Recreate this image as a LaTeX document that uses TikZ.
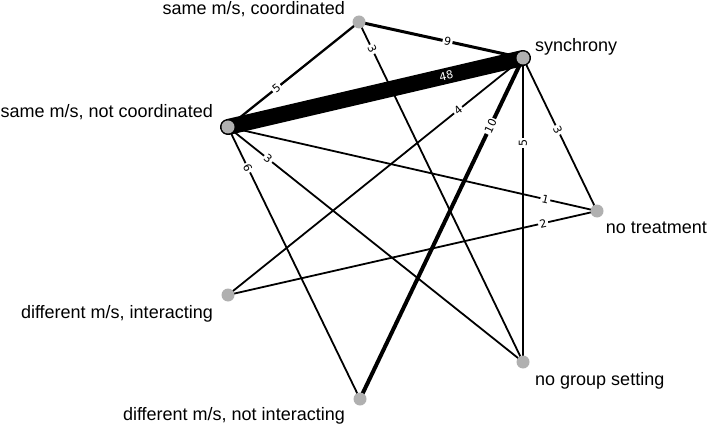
\documentclass[tikz,border=0pt]{standalone}
\usepackage{fontspec}
\setmainfont{Liberation Sans}
\newfontfamily\WeightFont{DejaVu Sans}
\usepackage{tikz}
\usepackage{xcolor}
\definecolor{ColNode}{RGB}{176,176,176}
\pgfdeclarelayer{back}
\pgfsetlayers{back,main}
\tikzstyle{NodeGraph}=[circle,fill=ColNode,inner sep=0pt,minimum size=13pt]
\tikzstyle{NodeText}=[inner sep=0pt,font=\fontsize{18}{20}\selectfont]
\tikzstyle{EdgeGraph}=[black,line width=1.8pt]
\tikzstyle{EdgeWeight}=[fill=white,inner sep=1.5pt,sloped,font=\WeightFont\fontsize{11}{12}\selectfont]

\begin{document}
\begin{tikzpicture}[x=1pt,y=-1pt]
        \useasboundingbox(0,0)rectangle(708,430);
        \node[NodeGraph](c)at(359,22){};
        \node[NodeGraph](s)at(523,58){};
        \node[NodeGraph](n)at(228,127){};
        \node[NodeGraph](t)at(597,211){};
        \node[NodeGraph](i)at(228,295){};
        \node[NodeGraph](g)at(523,362){};
        \node[NodeGraph](d)at(360,399){};
        \node[NodeText,anchor=base east](tc)at(345,15){same m/s, coordinated};
        \node[NodeText,anchor=base west](ts)at(535,52){synchrony};
        \node[NodeText,anchor=base east](tn)at(213,118){same m/s, not coordinated};
        \node[NodeText,anchor=base east](tt)at(707,233){no treatment};
        \node[NodeText,anchor=base east](ti)at(213,318){different m/s, interacting};
        \node[NodeText,anchor=base west](tg)at(535,385){no group setting};
        \node[NodeText,anchor=base east](td)at(345,420){different m/s, not interacting};
        \begin{pgfonlayer}{back}
        \draw[EdgeGraph,line width=16pt,line cap=round](n.center)--node[EdgeWeight,fill=none,text=white,pos=.74](wns){48}(s.center);
        \draw[EdgeGraph,line width=3pt](c.center)--node[EdgeWeight,pos=.54](wcs){9}(s.center);
        \draw[EdgeGraph,line width=2.3pt](c.center)--node[EdgeWeight,pos=.63](wcn){5}(n.center);
        \draw[EdgeGraph](c.center)--node[EdgeWeight,pos=.08](wcg){3}(g.center);
        \draw[EdgeGraph](s.center)--node[EdgeWeight,pos=.22](wsi){4}(i.center);
        \draw[EdgeGraph,line width=4pt](s.center)--node[EdgeWeight,pos=.2](wsd){10}(d.center);
        \draw[EdgeGraph,line width=2.1pt](g.center)--node[EdgeWeight,pos=.72](wsg){5}(s.center);
        \draw[EdgeGraph](s.center)--node[EdgeWeight,pos=.47](wst){3}(t.center);
        \draw[EdgeGraph](n.center)--node[EdgeWeight,pos=.86](wnt){1}(t.center);
        \draw[EdgeGraph](i.center)--node[EdgeWeight,pos=.854](wit){2}(t.center);
        \draw[EdgeGraph](n.center)--node[EdgeWeight,pos=.136](wng){3}(g.center);
        \draw[EdgeGraph](n.center)--node[EdgeWeight,pos=.15](wnd){6}(d.center);
        \end{pgfonlayer}
    \end{tikzpicture}
\end{document}
